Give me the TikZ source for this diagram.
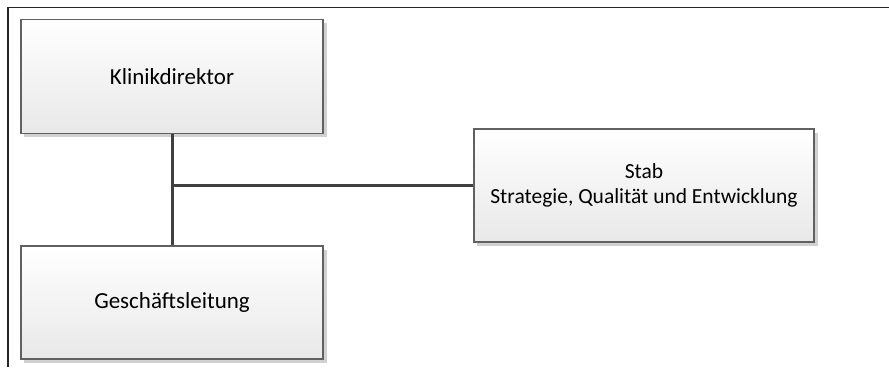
\documentclass[tikz,border=0pt]{standalone}
\usepackage{fontspec}
\setmainfont{Carlito}
\begin{document}
\begin{tikzpicture}[x=1pt,y=-1pt,
  orgbox/.style={draw=black!62,line width=1.2pt,top color=white,bottom color=black!9,
    minimum width=#1,inner sep=0pt,align=center},
  orgbox/.default=302pt,
  big/.style={font=\fontsize{23}{28}\selectfont},
  small/.style={font=\fontsize{21.5}{25.5}\selectfont},
  conn/.style={draw=black!75,line width=3pt},
  frame/.style={draw=black!85,line width=1.4pt}]
\useasboundingbox (0,0) rectangle (889,367);
% frame lines
\draw[frame] (8,367) -- (8,7.5) -- (889,7.5);
% shadows
\fill[black!18] (24,23) rectangle (327,137);
\fill[black!18] (24,250) rectangle (327,363);
\fill[black!18] (477,133) rectangle (818,246);
% boxes
\node[orgbox=302pt,big,minimum height=113.5pt] (kd) at (172,76.5) {Klinikdirektor};
\node[orgbox=302pt,big,minimum height=113pt] (gl) at (172,302.5) {Geschäftsleitung};
\node[orgbox=340pt,small,minimum height=113pt] (st) at (644,185.5) {Stab\\Strategie, Qualität und Entwicklung};
\coordinate (j) at (172,185);
\draw[conn] (kd.south) -- (gl.north);
\draw[conn] (j) -- (j -| st.west);
\end{tikzpicture}
\end{document}
